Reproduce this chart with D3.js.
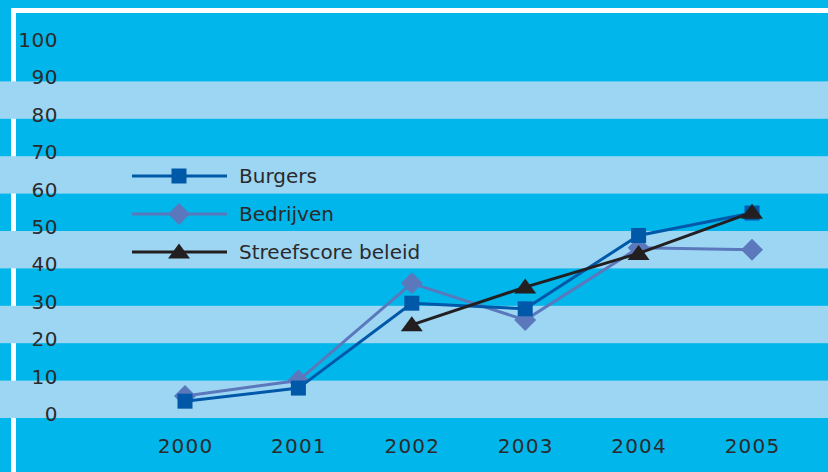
<!DOCTYPE html>
<html>
<head>
<meta charset="utf-8">
<script src="https://cdn.jsdelivr.net/npm/d3@7"></script>
<style>
  body { margin: 0; background: #00b6ea; }
  svg { display: block; }
</style>
</head>
<body>
<svg></svg>
<script>
// data
var years = [2000, 2001, 2002, 2003, 2004, 2005];
var burgers = [4.5, 8, 30.7, 29.2, 48.8, 54.8];
var bedrijven = [5.9, 10, 36, 26.2, 45.5, 45];
var streefscore = [null, null, 24.9, 35, 44, 55];
var yTicks = [0, 10, 20, 30, 40, 50, 60, 70, 80, 90, 100];

var seriesNames = ["Burgers", "Bedrijven", "Streefscore beleid"];
var seriesColors = ["#0058a9", "#5b78bd", "#231f20"];

var width = 828, height = 472;

var svg = d3.select("svg")
    .attr("width", width)
    .attr("height", height)
    .style("font-family", "'DejaVu Sans', sans-serif");

svg.append("rect")
    .attr("width", width).attr("height", height)
    .attr("fill", "#00b6ea");

// white frame (top + left)
svg.append("rect").attr("x", 11).attr("y", 8).attr("width", width - 11).attr("height", 5).attr("fill", "#fff");
svg.append("rect").attr("x", 11).attr("y", 8).attr("width", 5).attr("height", height - 8).attr("fill", "#fff");

// scales
var x = d3.scalePoint()
    .domain(years)
    .range([185, 752]);
var y = d3.scaleLinear()
    .domain([0, 100])
    .range([418, 44]);

// light bands every other 10
var bands = yTicks.filter(function(d) { return d < 100 && d % 20 == 0; });
svg.selectAll(".band")
    .data(bands)
  .enter().append("rect")
    .attr("class", "band")
    .attr("x", 0)
    .attr("width", width)
    .attr("y", function(d) { return y(d + 10); })
    .attr("height", function(d) { return y(d) - y(d + 10); })
    .attr("fill", "#9dd6f3");

// y axis
var yAxis = svg.append("g")
    .attr("transform", "translate(58,-4)")
    .call(d3.axisLeft(y).tickValues(yTicks).tickSize(0).tickPadding(0));
yAxis.select(".domain").remove();
yAxis.selectAll("text")
    .attr("fill", "#2a2a2c")
    .style("font-size", "20px")
    .style("font-family", "'DejaVu Sans', sans-serif")
    .style("letter-spacing", "0.5px");

// x axis
var xAxis = svg.append("g")
    .attr("transform", "translate(0,438)")
    .call(d3.axisBottom(x).tickSize(0).tickPadding(0));
xAxis.select(".domain").remove();
xAxis.selectAll("text")
    .attr("fill", "#2a2a2c")
    .attr("dy", "0.75em")
    .style("font-size", "20px")
    .style("font-family", "'DejaVu Sans', sans-serif")
    .style("letter-spacing", "1.2px");

// markers
function drawMarker(g, type, color) {
    if (type == 0) {
        g.append("rect").attr("x", -7.5).attr("y", -7.5).attr("width", 15).attr("height", 15).attr("fill", color);
    } else if (type == 1) {
        g.append("path").attr("d", "M0,-11L11,0L0,11L-11,0Z").attr("fill", color);
    } else {
        g.append("path").attr("d", "M0,-8.5L11,6.5L-11,6.5Z").attr("fill", color);
    }
}

var allSeries = [burgers, bedrijven, streefscore];
var drawOrder = [1, 0, 2];

var line = d3.line()
    .defined(function(d) { return d.v != null; })
    .x(function(d) { return x(d.year); })
    .y(function(d) { return y(d.v); });

drawOrder.forEach(function(i) {
    var pts = years.map(function(yr, j) { return {year: yr, v: allSeries[i][j]}; });
    svg.append("path")
        .datum(pts)
        .attr("fill", "none")
        .attr("stroke", seriesColors[i])
        .attr("stroke-width", 3)
        .attr("d", line);
    pts.filter(function(d) { return d.v != null; }).forEach(function(d) {
        var g = svg.append("g").attr("transform", "translate(" + x(d.year) + "," + y(d.v) + ")");
        drawMarker(g, i, seriesColors[i]);
    });
});

// legend
var legendY = [176, 214, 252];
seriesNames.forEach(function(name, i) {
    var lg = svg.append("g").attr("transform", "translate(0," + legendY[i] + ")");
    lg.append("line")
        .attr("x1", 132).attr("x2", 227)
        .attr("stroke", seriesColors[i])
        .attr("stroke-width", 3);
    var m = lg.append("g").attr("transform", "translate(179,0)");
    drawMarker(m, i, seriesColors[i]);
    lg.append("text")
        .attr("x", 239)
        .attr("dy", "0.35em")
        .attr("fill", "#2a2a2c")
        .style("font-size", "20px")
        .text(name);
});
</script>
</body>
</html>
